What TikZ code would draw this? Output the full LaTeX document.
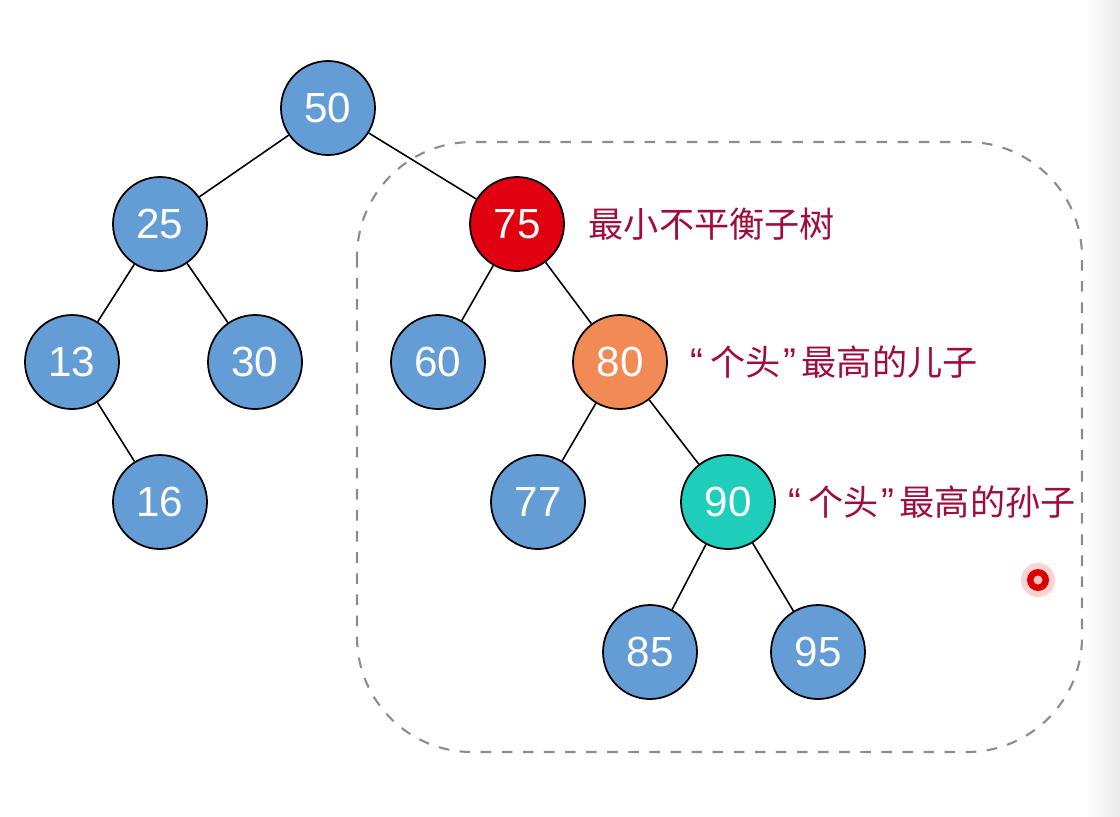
\documentclass[tikz,border=0pt]{standalone}
\usepackage{fontspec}
\setmainfont{Liberation Sans}
\newfontfamily\cjk{Noto Sans CJK SC}
\definecolor{knotenblau}{HTML}{649CD6}
\definecolor{knotenrot}{HTML}{E0000F}
\definecolor{knotenorange}{HTML}{F28A55}
\definecolor{knotentuerkis}{HTML}{1FCDBB}
\definecolor{textrot}{HTML}{A00C3C}
\newcommand{\zitatauf}{{\rmfamily\fontsize{11}{12}\selectfont “}\kern0.07cm}
\newcommand{\zitatzu}{\kern0.03cm{\rmfamily\fontsize{11}{12}\selectfont ”}\kern0.05cm}
\tikzset{
	kreis/.style={circle,draw=black,line width=0.5pt,minimum size=0.94cm,inner sep=0pt,
		text=white,font=\fontsize{12}{14}\selectfont},
	beschriftung/.style={anchor=west,text=textrot,font=\cjk\fontsize{10}{12}\selectfont,inner sep=0pt},
	kante/.style={line width=0.45pt}
}
\begin{document}
\begin{tikzpicture}
\useasboundingbox (0,0) rectangle (11.2,-8.16);
\shade[left color=white,right color=black!8] (10.85,0) rectangle (11.2,-8.16);
% Knoten: Name, x, y, Farbe
\def\knoten#1#2#3#4{
	\node[kreis,fill=#4] (n#1) at (#2,#3) {#1};
}
\knoten{50}{3.28}{-1.08}{knotenblau}
\knoten{25}{1.60}{-2.24}{knotenblau}
\knoten{75}{5.17}{-2.24}{knotenrot}
\knoten{13}{0.72}{-3.62}{knotenblau}
\knoten{30}{2.55}{-3.62}{knotenblau}
\knoten{60}{4.38}{-3.62}{knotenblau}
\knoten{80}{6.20}{-3.62}{knotenorange}
\knoten{16}{1.60}{-5.02}{knotenblau}
\knoten{77}{5.38}{-5.02}{knotenblau}
\knoten{90}{7.28}{-5.02}{knotentuerkis}
\knoten{85}{6.50}{-6.52}{knotenblau}
\knoten{95}{8.18}{-6.52}{knotenblau}
% Kanten
\def\kante#1#2{
	\draw[kante] (n#1) -- (n#2);
}
\kante{50}{25}
\kante{50}{75}
\kante{25}{13}
\kante{25}{30}
\kante{13}{16}
\kante{75}{60}
\kante{75}{80}
\kante{80}{77}
\kante{80}{90}
\kante{90}{85}
\kante{90}{95}
% Teilbaum
\draw[dashed,draw=black!45,line width=0.6pt,rounded corners=1.15cm]
	(3.57,-1.42) rectangle (10.82,-7.52);
% Beschriftungen
\node[beschriftung] (l75) at (5.88,-2.24) {最小不平衡子树};
\node[beschriftung] (l80) at (6.90,-3.62) {\zitatauf 个头\zitatzu 最高的儿子};
\node[beschriftung] (l90) at (7.88,-5.02) {\zitatauf 个头\zitatzu 最高的孙子};
% Zeiger
\fill[red!60!white,opacity=0.3] (10.38,-5.80) circle[radius=0.17];
\fill[red!85!black] (10.38,-5.80) circle[radius=0.11];
\fill[white!75!red] (10.38,-5.80) circle[radius=0.045];
\end{tikzpicture}
\end{document}
